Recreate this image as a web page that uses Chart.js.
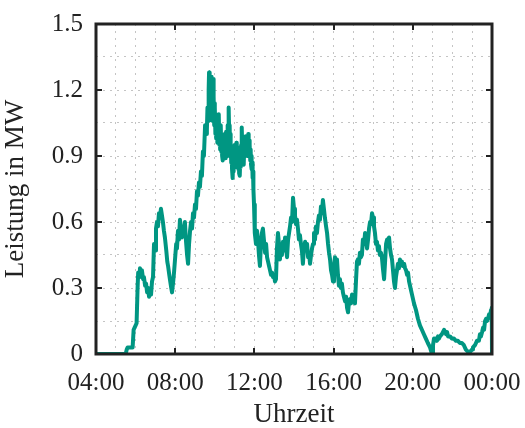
<!DOCTYPE html>
<html>
<head>
<meta charset="utf-8">
<script src="https://cdn.jsdelivr.net/npm/chart.js@4/dist/chart.umd.min.js"></script>
<style>
  html, body { margin: 0; padding: 0; background: #ffffff; }
  #wrap { width: 525px; height: 428px; position: relative; }
</style>
</head>
<body>
<div id="wrap"><canvas id="c" width="525" height="428"></canvas></div>
<script>
// Time of day in hours (24 = midnight of the following day)
const hours = [
  4.00, 5.50, 5.55, 5.60, 5.85, 5.90, 5.95, 6.05, 6.10, 6.13, 6.18, 6.22, 6.27, 6.32, 6.38, 6.42,
  6.48, 6.53, 6.58, 6.63, 6.68, 6.73, 6.78, 6.83, 6.88, 6.93, 6.98, 7.03, 7.08, 7.13, 7.18, 7.23,
  7.28, 7.33, 7.38, 7.43, 7.48, 7.55, 7.60, 7.64, 7.70, 7.75, 7.80, 7.84, 7.90, 7.94, 8.00, 8.05,
  8.09, 8.14, 8.19, 8.24, 8.29, 8.34, 8.39, 8.44, 8.49, 8.54, 8.60, 8.65, 8.70, 8.75, 8.80, 8.85,
  8.90, 8.95, 9.00, 9.05, 9.10, 9.15, 9.20, 9.25, 9.30, 9.35, 9.40, 9.45, 9.51, 9.56,
  9.60, 9.63, 9.66, 9.69, 9.71, 9.73, 9.75, 9.77, 9.79, 9.81, 9.83, 9.85, 9.87, 9.89, 9.91, 9.93,
  9.95, 9.97, 9.99, 10.01, 10.03, 10.05, 10.07, 10.09, 10.11, 10.13, 10.15, 10.17, 10.19, 10.21, 10.23, 10.25,
  10.27, 10.29, 10.31, 10.33, 10.35, 10.37, 10.39, 10.41, 10.43, 10.45, 10.47, 10.49, 10.51, 10.53, 10.55, 10.57,
  10.59, 10.61, 10.63, 10.65, 10.67, 10.69, 10.71, 10.73, 10.75, 10.77, 10.79, 10.81, 10.83, 10.85, 10.87, 10.89,
  10.91, 10.93, 10.95, 10.97, 10.99, 11.01, 11.03, 11.05, 11.07, 11.09, 11.11, 11.13, 11.15, 11.17, 11.19, 11.21,
  11.23, 11.25, 11.27, 11.29, 11.31, 11.33, 11.35, 11.37, 11.39, 11.41, 11.43, 11.45, 11.47, 11.49, 11.51, 11.53,
  11.55, 11.57, 11.59, 11.61, 11.63, 11.65, 11.67, 11.69, 11.71, 11.73, 11.75, 11.77, 11.79, 11.81, 11.83, 11.85,
  11.87, 11.89, 11.91, 11.93, 11.95, 11.98, 12.01, 12.03, 12.08,
  12.13, 12.18, 12.23, 12.28, 12.33, 12.38, 12.43, 12.48, 12.54, 12.59, 12.64, 12.69, 12.74, 12.79, 12.84, 12.89,
  12.94, 12.99, 13.04, 13.09, 13.14, 13.19, 13.24, 13.29, 13.34, 13.39, 13.44, 13.50, 13.55, 13.60, 13.65, 13.70,
  13.75, 13.80, 13.85, 13.90, 13.95, 14.00, 14.05, 14.10, 14.15, 14.20, 14.25, 14.30, 14.35, 14.40, 14.45, 14.50,
  14.56, 14.61, 14.66, 14.71, 14.76, 14.81, 14.86, 14.91, 14.96, 15.01, 15.06, 15.11, 15.16, 15.21, 15.26, 15.31,
  15.36, 15.41, 15.46, 15.51, 15.56, 15.62, 15.67, 15.72, 15.77, 15.82, 15.87, 15.92, 15.97, 16.02, 16.07, 16.12,
  16.17, 16.22, 16.27, 16.32, 16.37, 16.42, 16.47, 16.52, 16.58, 16.63, 16.68, 16.73, 16.78, 16.83, 16.88, 16.93,
  16.98, 17.03, 17.08, 17.13, 17.18, 17.23, 17.28, 17.33, 17.38, 17.43, 17.48, 17.54, 17.59, 17.64, 17.69, 17.74,
  17.79, 17.84, 17.89, 17.94, 17.99, 18.04, 18.09, 18.14, 18.19, 18.24, 18.29, 18.34, 18.39, 18.44, 18.49, 18.55,
  18.60, 18.65, 18.70, 18.75, 18.80, 18.85, 18.90, 18.95, 19.00, 19.05, 19.10, 19.15, 19.20, 19.25, 19.30, 19.35,
  19.40, 19.45, 19.50, 19.56, 19.61, 19.66, 19.71, 19.76, 19.81, 19.86, 19.91, 19.96, 20.06, 20.16, 20.26, 20.36,
  20.46, 20.56, 20.66, 20.76, 20.87, 20.97, 21.02, 21.07, 21.12, 21.17, 21.22, 21.27, 21.32, 21.37, 21.47, 21.58,
  21.63, 21.68, 21.73, 21.78, 21.88, 21.98, 22.08, 22.18, 22.28, 22.38, 22.48, 22.58, 22.68, 22.79, 22.89, 22.99,
  23.04, 23.14, 23.24, 23.34, 23.39, 23.44, 23.50, 23.55, 23.60, 23.65, 23.70, 23.75, 23.80, 23.85, 23.90, 23.95,
  23.99, 24.00
];

// Active power in MW
const powerMW = [
  0.00, 0.00, 0.02, 0.03, 0.03, 0.11, 0.12, 0.14, 0.30, 0.37, 0.35, 0.39, 0.37, 0.38, 0.34, 0.35,
  0.31, 0.32, 0.28, 0.30, 0.26, 0.29, 0.27, 0.33, 0.35, 0.50, 0.47, 0.57, 0.60, 0.58, 0.64, 0.62,
  0.66, 0.63, 0.60, 0.56, 0.53, 0.47, 0.42, 0.40, 0.36, 0.33, 0.30, 0.28, 0.33, 0.37, 0.44, 0.50,
  0.48, 0.56, 0.52, 0.61, 0.57, 0.53, 0.58, 0.55, 0.60, 0.52, 0.45, 0.41, 0.50, 0.56, 0.60, 0.57,
  0.64, 0.62, 0.68, 0.66, 0.74, 0.72, 0.78, 0.76, 0.83, 0.81, 0.92, 0.90, 1.04, 1.00,
  1.02, 1.12, 1.06, 1.20, 1.28, 1.18, 1.24, 1.10, 1.22, 1.26, 1.12, 1.19, 1.06, 1.20, 1.25, 1.10,
  1.17, 1.04, 1.14, 1.12, 1.00, 1.09, 0.98, 1.06, 1.07, 0.96, 1.04, 0.97, 1.08, 1.09, 0.95, 1.03,
  0.93, 1.01, 1.04, 0.92, 0.98, 0.90, 0.96, 0.88, 0.97, 0.90, 0.99, 0.92, 1.00, 0.89, 0.97, 1.01,
  0.91, 0.98, 0.90, 1.04, 0.97, 1.08, 1.12, 0.99, 1.04, 0.92, 1.00, 0.96, 0.87, 0.93, 0.84, 0.90,
  0.80, 0.87, 0.83, 0.93, 0.86, 0.95, 0.88, 0.92, 0.85, 0.96, 0.89, 0.94, 0.86, 0.92, 0.84, 0.89,
  0.82, 0.87, 0.81, 0.90, 0.85, 0.95, 0.90, 1.03, 0.93, 0.97, 0.88, 0.94, 0.86, 0.95, 0.90, 0.98,
  0.91, 0.99, 0.93, 0.97, 0.90, 0.99, 0.94, 1.00, 0.92, 0.97, 0.90, 0.95, 0.88, 0.93, 0.86, 0.90,
  0.84, 0.87, 0.80, 0.83, 0.75, 0.68, 0.58, 0.55, 0.50,
  0.56, 0.52, 0.45, 0.40, 0.50, 0.55, 0.57, 0.52, 0.46, 0.50, 0.44, 0.42, 0.40, 0.38, 0.36, 0.37,
  0.35, 0.36, 0.33, 0.34, 0.48, 0.55, 0.50, 0.43, 0.49, 0.45, 0.51, 0.47, 0.53, 0.48, 0.44, 0.52,
  0.55, 0.58, 0.62, 0.60, 0.71, 0.66, 0.63, 0.59, 0.61, 0.57, 0.52, 0.54, 0.50, 0.47, 0.41, 0.48,
  0.51, 0.47, 0.50, 0.44, 0.46, 0.41, 0.45, 0.48, 0.50, 0.55, 0.52, 0.58, 0.55, 0.60, 0.63, 0.61,
  0.67, 0.64, 0.70, 0.66, 0.62, 0.58, 0.55, 0.50, 0.46, 0.43, 0.38, 0.36, 0.33, 0.40, 0.44, 0.40,
  0.43, 0.36, 0.31, 0.34, 0.30, 0.32, 0.28, 0.26, 0.24, 0.26, 0.21, 0.19, 0.24, 0.25, 0.23, 0.27,
  0.24, 0.25, 0.23, 0.33, 0.42, 0.43, 0.41, 0.46, 0.44, 0.45, 0.52, 0.50, 0.55, 0.51, 0.48, 0.52,
  0.57, 0.60, 0.59, 0.64, 0.62, 0.58, 0.55, 0.50, 0.51, 0.47, 0.49, 0.45, 0.46, 0.44, 0.39, 0.34,
  0.42, 0.50, 0.52, 0.49, 0.53, 0.48, 0.45, 0.43, 0.38, 0.33, 0.30, 0.35, 0.38, 0.41, 0.39, 0.43,
  0.41, 0.42, 0.40, 0.41, 0.39, 0.38, 0.36, 0.37, 0.33, 0.31, 0.29, 0.27, 0.23, 0.20, 0.16, 0.13,
  0.11, 0.09, 0.07, 0.05, 0.03, 0.00, 0.04, 0.07, 0.06, 0.07, 0.06, 0.08, 0.07, 0.08, 0.09, 0.11,
  0.10, 0.09, 0.10, 0.08, 0.08, 0.07, 0.07, 0.06, 0.06, 0.05, 0.05, 0.04, 0.02, 0.01, 0.01, 0.02,
  0.03, 0.04, 0.06, 0.06, 0.09, 0.08, 0.10, 0.12, 0.11, 0.15, 0.16, 0.15, 0.16, 0.18, 0.17, 0.20,
  0.21, 0.00
];

// Labelled (major) ticks
const xTickHours  = [4, 8, 12, 16, 20, 24];
const xTickLabels = ['04:00', '08:00', '12:00', '16:00', '20:00', '00:00'];
const yTickValues = [0, 0.3, 0.6, 0.9, 1.2, 1.5];
const yTickLabels = ['0', '0.3', '0.6', '0.9', '1.2', '1.5'];

// Dotted grid positions (hourly, and every half major step on the power axis)
const xGridHours = [4, 5, 6, 7, 8, 9, 10, 11, 12, 13, 14, 15, 16, 17, 18, 19, 20, 21, 22, 23, 24];
const yGridValues = [0, 0.15, 0.3, 0.45, 0.6, 0.75, 0.9, 1.05, 1.2, 1.35, 1.5];

const serif = "'Liberation Serif', 'Times New Roman', serif";
const textColor = '#222222';
const lineColor = '#009682';

function labelFor(values, labels, v) {
  for (let i = 0; i < values.length; i++) {
    if (Math.abs(values[i] - v) < 1e-6) return labels[i];
  }
  return '';
}

// Closed frame with inward-pointing major ticks on all four sides
const framePlugin = {
  id: 'frame',
  afterDraw(chart) {
    const { ctx, chartArea: a, scales } = chart;
    const xs = scales.x, ys = scales.y;
    const len = 6;
    ctx.save();
    ctx.strokeStyle = '#222222';
    ctx.lineWidth = 2;
    ctx.beginPath();
    xTickHours.forEach(h => {
      const px = Math.round(xs.getPixelForValue(h));
      ctx.moveTo(px, a.bottom); ctx.lineTo(px, a.bottom - len);
      ctx.moveTo(px, a.top); ctx.lineTo(px, a.top + len);
    });
    yTickValues.forEach(v => {
      const py = Math.round(ys.getPixelForValue(v));
      ctx.moveTo(a.left, py); ctx.lineTo(a.left + len, py);
      ctx.moveTo(a.right, py); ctx.lineTo(a.right - len, py);
    });
    ctx.stroke();
    ctx.lineWidth = 3;
    ctx.strokeRect(a.left, a.top, a.right - a.left, a.bottom - a.top);
    ctx.restore();
  }
};

new Chart(document.getElementById('c'), {
  type: 'line',
  data: {
    datasets: [{
      data: hours.map((h, i) => ({ x: h, y: powerMW[i] })),
      borderColor: lineColor,
      borderWidth: 4,
      pointRadius: 0,
      tension: 0,
      fill: false,
      borderJoinStyle: 'round',
      borderCapStyle: 'round'
    }]
  },
  options: {
    responsive: false,
    animation: false,
    layout: { padding: { top: 24, right: 33, left: 0, bottom: 0 } },
    plugins: { legend: { display: false }, tooltip: { enabled: false } },
    scales: {
      x: {
        type: 'linear',
        min: 4, max: 24,
        afterBuildTicks(scale) { scale.ticks = xGridHours.map(v => ({ value: v })); },
        afterFit(scale) { scale.height = 74; scale.paddingLeft = 0; scale.paddingRight = 0; },
        ticks: {
          autoSkip: false, maxRotation: 0, padding: 14,
          color: textColor,
          font: { family: serif, size: 25 },
          callback: v => labelFor(xTickHours, xTickLabels, v)
        },
        grid: { color: '#c4c4c4', lineWidth: 1, drawTicks: false },
        border: { display: false, dash: [2, 5] },
        title: {
          display: true, text: 'Uhrzeit', color: textColor,
          font: { family: serif, size: 27, lineHeight: 1.0 }, padding: { top: 0, bottom: 0 }
        }
      },
      y: {
        type: 'linear',
        min: 0, max: 1.5,
        afterBuildTicks(scale) { scale.ticks = yGridValues.map(v => ({ value: v })); },
        afterFit(scale) { scale.width = 96; scale.paddingTop = 0; scale.paddingBottom = 0; },
        ticks: {
          autoSkip: false, padding: 13,
          color: textColor,
          font: { family: serif, size: 25 },
          callback: v => labelFor(yTickValues, yTickLabels, v)
        },
        grid: { color: '#c4c4c4', lineWidth: 1, drawTicks: false },
        border: { display: false, dash: [2, 5] },
        title: {
          display: true, text: 'Leistung in MW', color: textColor,
          font: { family: serif, size: 27 }, padding: { top: 0, bottom: 0 }
        }
      }
    }
  },
  plugins: [framePlugin]
});
</script>
</body>
</html>
